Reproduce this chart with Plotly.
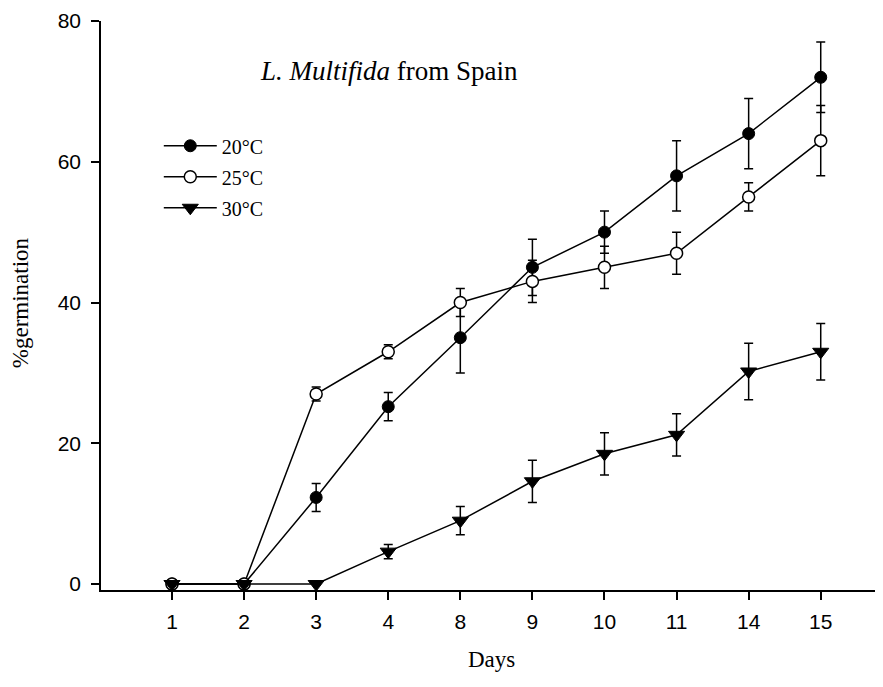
import plotly.graph_objects as go

days = ["1", "2", "3", "4", "8", "9", "10", "11", "14", "15"]
g20 = [0, 0, 12.3, 25.2, 35, 45, 50, 58, 64, 72]
e20 = [0, 0, 2, 2, 5, 4, 3, 5, 5, 5]
g25 = [0, 0, 27, 33, 40, 43, 45, 47, 55, 63]
e25 = [0, 0, 1, 1, 2, 3, 3, 3, 2, 5]
g30 = [0, 0, 0, 4.6, 9, 14.6, 18.5, 21.2, 30.2, 33]
e30 = [0, 0, 0, 1, 2, 3, 3, 3, 4, 4]
yticks = [0, 20, 40, 60, 80]

SERIF = "Times New Roman, Liberation Serif, serif"
SANS = "Arial, Liberation Sans, sans-serif"

def err(vals):
    return dict(type="data", array=vals, visible=True, color="black",
                thickness=1.5, width=4.5)

fig = go.Figure()
fig.add_trace(go.Scatter(
    x=days, y=g20, name="20°C", mode="lines+markers", legendgroup="a",
    line=dict(color="black", width=1.5),
    marker=dict(symbol="circle", size=12, color="black",
                line=dict(color="black", width=1)),
    error_y=err(e20)))
fig.add_trace(go.Scatter(
    x=days, y=g25, name="25°C", mode="lines+markers", legendgroup="b",
    line=dict(color="black", width=1.5),
    marker=dict(symbol="circle", size=12, color="white",
                line=dict(color="black", width=1.5)),
    error_y=err(e25)))
fig.add_trace(go.Scatter(
    x=days, y=g30, name="30°C", mode="lines+markers", legendgroup="c",
    line=dict(color="black", width=1.5),
    marker=dict(symbol="triangle-down", size=14, color="black",
                line=dict(color="black", width=1)),
    error_y=err(e30)))

# page body has an 8px margin, so the figure is 8px smaller and margins shifted
fig.update_layout(
    width=875, height=679,
    margin=dict(l=93, r=1, t=11, b=97),
    paper_bgcolor="white", plot_bgcolor="white",
    showlegend=True,
    legend=dict(x=0.074, y=0.815, xanchor="left", yanchor="top",
                font=dict(family=SERIF, size=20, color="black"),
                bgcolor="rgba(0,0,0,0)", tracegroupgap=2, itemwidth=53),
    xaxis=dict(type="category", categoryorder="array", categoryarray=days,
               range=[-0.985, 9.85], showline=True, linecolor="black",
               linewidth=1.5, ticks="outside", ticklen=8, tickwidth=1.5,
               tickcolor="black", showgrid=False, zeroline=False,
               ticklabelstandoff=4, ticklabeloverflow="allow",
               tickfont=dict(family=SANS, size=21, color="black")),
    yaxis=dict(range=[-0.85, 80], tickvals=yticks, showline=True,
               linecolor="black", linewidth=1.5, ticks="outside", ticklen=8,
               tickwidth=1.5, tickcolor="black", showgrid=False,
               zeroline=False, ticklabelstandoff=6, ticklabeloverflow="allow",
               tickfont=dict(family=SANS, size=21, color="black")),
    annotations=[
        dict(text="<i>L. Multifida</i> from Spain", xref="paper", yref="paper",
             x=0.369, y=0.912, xanchor="center", yanchor="middle",
             showarrow=False, font=dict(family=SERIF, size=27, color="black")),
        dict(text="%germination", xref="paper", yref="paper",
             x=-0.1037, y=0.504, xanchor="center", yanchor="middle",
             textangle=-90, showarrow=False,
             font=dict(family=SERIF, size=23, color="black")),
        dict(text="Days", xref="paper", yref="paper",
             x=0.5, y=-0.1226, xanchor="center", yanchor="middle",
             showarrow=False, font=dict(family=SERIF, size=23, color="black")),
    ],
)

fig.write_html("out.html")
